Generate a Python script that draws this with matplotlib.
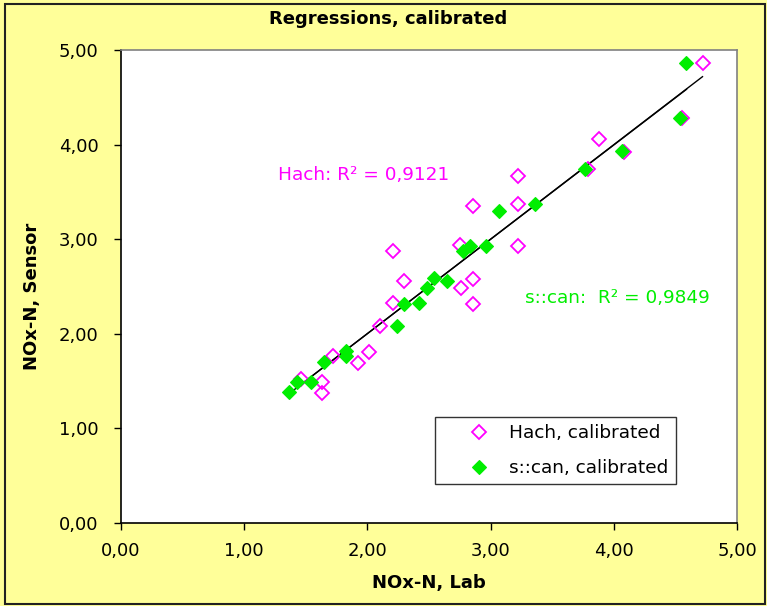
import numpy as np
import matplotlib
matplotlib.use("Agg")
import matplotlib.pyplot as plt
from matplotlib.ticker import FuncFormatter, MultipleLocator
from matplotlib.patches import Rectangle

plt.rcParams['font.family'] = ['DejaVu Sans']

title = "Regressions, calibrated"
xlabel = "NOx-N, Lab"
ylabel = "NOx-N, Sensor"

hach_lab = [4.72, 4.55, 3.88, 4.08, 3.79, 3.22, 3.22, 2.86, 3.22, 2.75, 2.21, 2.30,
            2.86, 2.76, 2.86, 2.21, 2.10, 2.01, 1.92, 1.72, 1.46, 1.63, 1.63]
hach_sensor = [4.86, 4.28, 4.06, 3.92, 3.74, 3.67, 3.37, 3.35, 2.93, 2.94, 2.87, 2.56,
               2.58, 2.48, 2.32, 2.33, 2.08, 1.81, 1.69, 1.77, 1.52, 1.49, 1.37]
scan_lab = [4.59, 4.54, 4.07, 3.77, 3.07, 3.36, 2.83, 2.78, 2.96, 2.54, 2.65, 2.48,
            2.30, 2.42, 2.24, 1.83, 1.83, 1.65, 1.43, 1.54, 1.36]
scan_sensor = [4.86, 4.28, 3.93, 3.74, 3.30, 3.37, 2.93, 2.87, 2.93, 2.59, 2.56, 2.48,
               2.32, 2.33, 2.08, 1.82, 1.77, 1.70, 1.49, 1.49, 1.39]
hach_r2 = "0,9121"
scan_r2 = "0,9849"

fig = plt.figure(figsize=(7.67, 6.06), dpi=100)
fig.patch.set_facecolor('#FFFF99')
ax = fig.add_axes([121/767, 1-523/606, 616/767, 473/606])
ax.set_facecolor('white')

# trend lines
for xs, ys in ((hach_lab, hach_sensor), (scan_lab, scan_sensor)):
    xs = np.array(xs); ys = np.array(ys)
    k, b = np.polyfit(xs, ys, 1)
    xx = np.array([xs.min(), xs.max()])
    ax.plot(xx, k*xx + b, color='black', lw=1.0, zorder=2)

ax.plot(hach_lab, hach_sensor, linestyle='none', marker='D', ms=7.5, mfc='none',
        mec='#FF00FF', mew=1.3, label='Hach, calibrated', zorder=3)
ax.plot(scan_lab, scan_sensor, linestyle='none', marker='D', ms=7, mfc='#00EE00',
        mec='#00EE00', mew=0.8, label='s::can, calibrated', zorder=4)

ax.set_xlim(0, 5)
ax.set_ylim(0, 5)
ax.xaxis.set_major_locator(MultipleLocator(1))
ax.yaxis.set_major_locator(MultipleLocator(1))
fmt = FuncFormatter(lambda v, p: f"{v:.2f}".replace('.', ','))
ax.xaxis.set_major_formatter(fmt)
ax.yaxis.set_major_formatter(fmt)
ax.tick_params(direction='out', length=5, width=1, labelsize=13)
ax.tick_params(axis='y', pad=11)
ax.tick_params(axis='x', pad=9)

for s in ('left', 'bottom'):
    ax.spines[s].set_color('black')
    ax.spines[s].set_linewidth(1.2)
for s in ('top', 'right'):
    ax.spines[s].set_color('#808080')
    ax.spines[s].set_linewidth(1.2)

ax.text(1.274, 3.68, "Hach: R² = " + hach_r2, color='#FF00FF', fontsize=13.3, va='center')
ax.text(3.28, 2.378, "s::can:  R² = " + scan_r2, color='#00EE00', fontsize=13.3, va='center')

leg = ax.legend(loc='upper left', bbox_to_anchor=(0.510, 0.224), frameon=True,
                fancybox=False, fontsize=13.3, borderpad=0.4, labelspacing=0.9,
                handletextpad=-0.3, handlelength=3.9, borderaxespad=0)
leg.get_frame().set_edgecolor('black')
leg.get_frame().set_linewidth(1.0)

fig.text(388/767, 1-19/606, title, ha='center', va='center', fontsize=13, fontweight='bold')
fig.text((121+737)/2/767, 1-583/606, xlabel, ha='center', va='center', fontsize=13, fontweight='bold')
fig.text(32/767, 1-296/606, ylabel, ha='center', va='center', rotation=90, fontsize=13, fontweight='bold')

fig.patches.append(Rectangle((5/767, 2/606), 760/767, 600/606, transform=fig.transFigure,
                             fill=False, edgecolor='#222222', lw=1.5))

fig.savefig('out.png', dpi=100, facecolor=fig.get_facecolor())
